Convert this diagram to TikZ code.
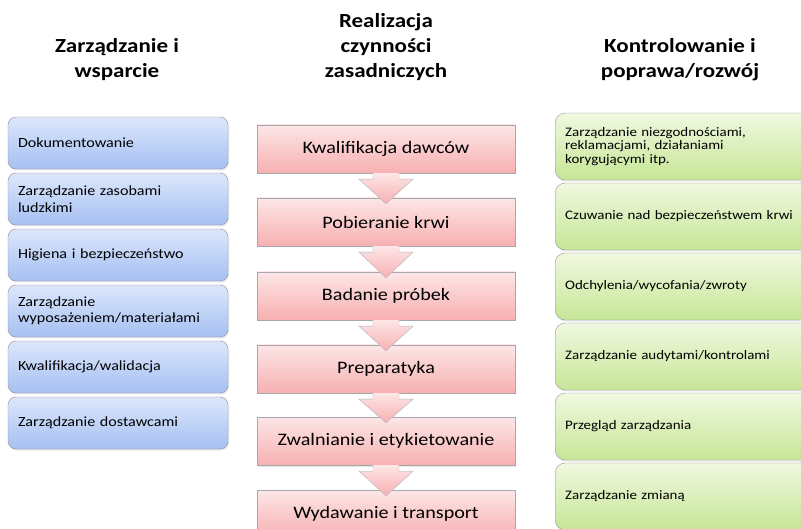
\documentclass[tikz,border=0pt]{standalone}
\usepackage{fontspec}
\setmainfont{Carlito}[FakeStretch=1.15]
\usepackage{tikz}
\usetikzlibrary{positioning,calc,shadows}

\definecolor{bluetop}{HTML}{DCE7FB}
\definecolor{bluebot}{HTML}{A5C0F2}
\definecolor{pinktop}{HTML}{FDE6E6}
\definecolor{pinkbot}{HTML}{F7B0B2}
\definecolor{greentop}{HTML}{F0F8E0}
\definecolor{greenbot}{HTML}{C6E696}
\definecolor{edgegray}{HTML}{8E9299}

\begin{document}
\begin{tikzpicture}[
  x=1pt, y=-1pt,
  head/.style={align=center, font=\fontsize{20}{25}\selectfont\bfseries},
  supp/.style={draw=edgegray, rounded corners=8pt, top color=bluetop, bottom color=bluebot,
              minimum width=220pt, minimum height=52pt, text width=200pt, align=left,
              inner sep=10pt, font=\fontsize{14}{16.5}\selectfont,
              drop shadow={opacity=0.2, shadow xshift=1pt, shadow yshift=-1.5pt}},
  proc/.style={draw=edgegray!80, top color=pinktop, bottom color=pinkbot,
               minimum width=258pt, minimum height=48pt, align=center,
               font=\fontsize{17.5}{20}\selectfont,
               drop shadow={opacity=0.2, shadow xshift=1pt, shadow yshift=-1.5pt}},
  ctrl/.style={draw=edgegray, rounded corners=10pt, top color=greentop, bottom color=greenbot,
               minimum width=262pt, minimum height=67pt, text width=242pt, align=left,
               inner sep=10pt, font=\fontsize{13}{13.5}\selectfont,
               drop shadow={opacity=0.2, shadow xshift=1pt, shadow yshift=-1.5pt}},
  flow/.style={draw=edgegray!70, top color=pinktop, bottom color=pinkbot},
]
\useasboundingbox (0,0) rectangle (801,529);

% naglowki
\node[head] (hl) at (117,60) {Zarządzanie i\\wsparcie};
\node[head] (hm) at (386,47) {Realizacja\\czynności\\zasadniczych};
\node[head] (hr) at (680,60) {Kontrolowanie i\\poprawa/rozwój};

% zarzadzanie i wsparcie
\node[supp] (l1) at (118,143) {Dokumentowanie};
\node[supp] (l2) at (118,199) {Zarządzanie zasobami\\ludzkimi};
\node[supp] (l3) at (118,255) {Higiena i bezpieczeństwo};
\node[supp] (l4) at (118,311) {Zarządzanie\\wyposażeniem/materiałami};
\node[supp] (l5) at (118,367) {Kwalifikacja/walidacja};
\node[supp] (l6) at (118,423) {Zarządzanie dostawcami};

% kontrolowanie i poprawa
\node[ctrl, anchor=west] (r1) at (555,146.5) {Zarządzanie niezgodnościami,\\reklamacjami, działaniami\\korygującymi itp.};
\node[ctrl, anchor=west] (r2) at (555,216.5) {Czuwanie nad bezpieczeństwem krwi};
\node[ctrl, anchor=west] (r3) at (555,286.5) {Odchylenia/wycofania/zwroty};
\node[ctrl, anchor=west] (r4) at (555,356.5) {Zarządzanie audytami/kontrolami};
\node[ctrl, anchor=west] (r5) at (555,426.5) {Przegląd zarządzania};
\node[ctrl, anchor=west] (r6) at (555,496.5) {Zarządzanie zmianą};

% proces
\node[proc] (m1) at (386,149) {Kwalifikacja dawców};
\node[proc] (m2) at (386,222) {Pobieranie krwi};
\node[proc] (m3) at (386,296) {Badanie próbek};
\node[proc] (m4) at (386,369) {Preparatyka};
\node[proc] (m5) at (386,441) {Zwalnianie i etykietowanie};
\node[proc] (m6) at (386,514) {Wydawanie i transport};

\foreach \a/\b in {m1/m2, m2/m3, m3/m4, m4/m5, m5/m6}
  \draw[flow] ($(\a.south)+(-13,0)$) -- ($(\a.south)+(-13,6)$) -- ($(\a.south)+(-27,6)$)
    -- ($(\b.north)+(0,6)$) -- ($(\a.south)+(27,6)$) -- ($(\a.south)+(13,6)$)
    -- ($(\a.south)+(13,0)$);
\end{tikzpicture}
\end{document}
